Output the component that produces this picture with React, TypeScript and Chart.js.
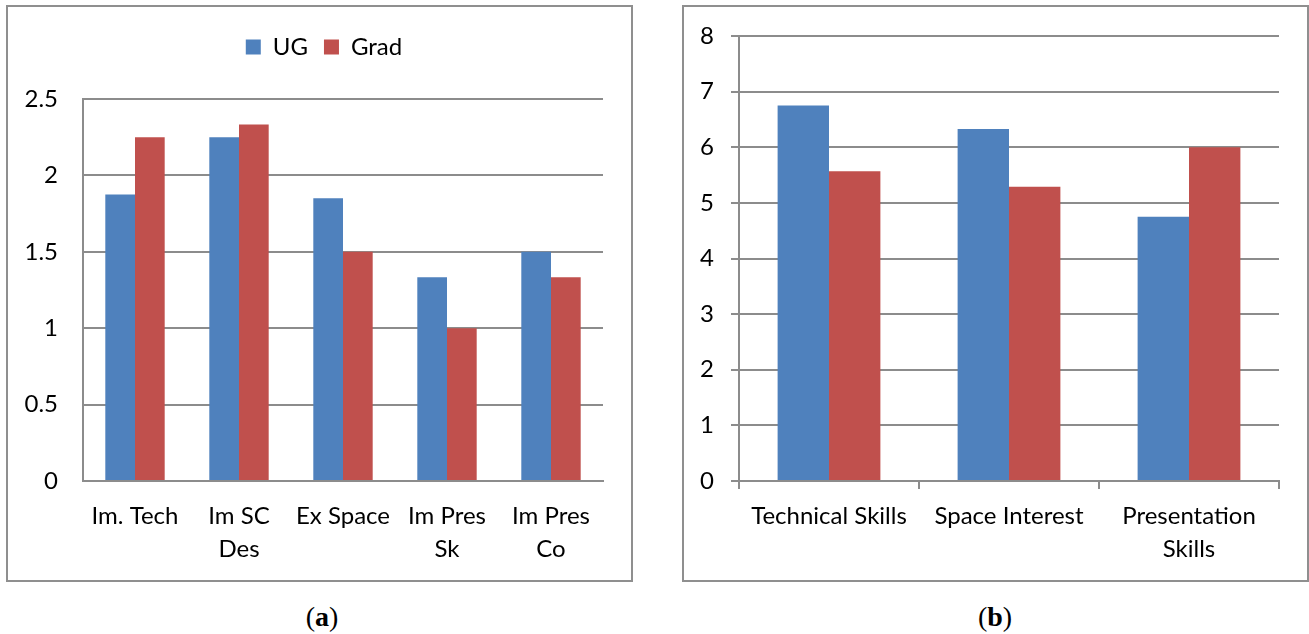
import React, { useEffect, useRef } from "react";
import { Chart, registerables } from "chart.js";

Chart.register(...registerables);

// ---- data ----
const leftCategories: (string | string[])[] = ["Im. Tech", ["Im SC", "Des"], "Ex Space", ["Im Pres", "Sk"], ["Im Pres", "Co"]];
const leftUG = [1.875, 2.25, 1.85, 1.333, 1.5];
const leftGrad = [2.25, 2.333, 1.5, 1.0, 1.333];
const leftTickLabels = ["0", "0.5", "1", "1.5", "2", "2.5"];
const leftMax = 2.5;
const leftStep = 0.5;

const rightCategories: (string | string[])[] = ["Technical Skills", "Space Interest", ["Presentation", "Skills"]];
const rightUG = [6.75, 6.33, 4.75];
const rightGrad = [5.57, 5.29, 6.0];
const rightTickLabels = ["0", "1", "2", "3", "4", "5", "6", "7", "8"];
const rightMax = 8;
const rightStep = 1;

const seriesNames = ["UG", "Grad"];
const seriesColors = ["#4F81BD", "#C0504D"];

const FONT = "Lato, 'Open Sans', sans-serif";
const FS = 24;
const GRID = "#8c8c8c";

const legendSpacer = {
  id: "legendSpacer",
  beforeLayout(chart: any) {
    const lg = chart.legend;
    if (lg && !lg._patched) {
      const orig = lg.fit;
      lg.fit = function () {
        orig.call(this);
        this.height += 30;
      };
      lg._patched = true;
    }
  },
};

function LeftChart() {
  const ref = useRef<HTMLCanvasElement>(null);
  useEffect(() => {
    const chart = new Chart(ref.current!, {
      type: "bar",
      data: {
        labels: leftCategories as any,
        datasets: [
          { label: seriesNames[0], data: leftUG, backgroundColor: seriesColors[0], borderWidth: 0, categoryPercentage: 0.571, barPercentage: 1 },
          { label: seriesNames[1], data: leftGrad, backgroundColor: seriesColors[1], borderWidth: 0, categoryPercentage: 0.571, barPercentage: 1 },
        ],
      },
      options: {
        animation: false,
        responsive: false,
        maintainAspectRatio: false,
        layout: { padding: { top: 19, left: 0, right: 0, bottom: 0 } },
        plugins: {
          legend: {
            position: "top",
            labels: { boxWidth: 15, boxHeight: 15, padding: 16, color: "#000", font: { family: FONT, size: FS } },
          },
          tooltip: { enabled: false },
        },
        scales: {
          x: {
            grid: { display: false, drawTicks: false },
            border: { display: true, color: GRID, width: 2 },
            ticks: { color: "#000", font: { family: FONT, size: FS, lineHeight: 1.375 }, padding: 19, maxRotation: 0, autoSkip: false },
            afterFit: (s: any) => { s.height = 109; },
          },
          y: {
            position: "left",
            min: 0,
            max: leftMax,
            ticks: { stepSize: leftStep, color: "#000", font: { family: FONT, size: FS }, padding: 25, callback: (_v: any, i: number) => leftTickLabels[i] },
            grid: { color: GRID, lineWidth: 2, drawTicks: false },
            border: { display: true, color: GRID, width: 2 },
            afterFit: (s: any) => { s.width = 83; },
          },
          y2: {
            position: "right",
            display: true,
            ticks: { display: false },
            grid: { display: false, drawTicks: false },
            border: { display: false },
            afterFit: (s: any) => { s.width = 45; },
          },
        },
      },
      plugins: [legendSpacer],
    } as any);
    return () => chart.destroy();
  }, []);
  return <canvas ref={ref} width={648} height={590} style={{ position: "absolute", left: 0, top: 0, width: 648, height: 590 }} />;
}

function RightChart() {
  const ref = useRef<HTMLCanvasElement>(null);
  useEffect(() => {
    const chart = new Chart(ref.current!, {
      type: "bar",
      data: {
        labels: rightCategories as any,
        datasets: [
          { label: seriesNames[0], data: rightUG, backgroundColor: seriesColors[0], borderWidth: 0, categoryPercentage: 0.571, barPercentage: 1 },
          { label: seriesNames[1], data: rightGrad, backgroundColor: seriesColors[1], borderWidth: 0, categoryPercentage: 0.571, barPercentage: 1 },
        ],
      },
      options: {
        animation: false,
        responsive: false,
        maintainAspectRatio: false,
        layout: { padding: { top: 36, left: 0, right: 29, bottom: 0 } },
        plugins: { legend: { display: false }, tooltip: { enabled: false } },
        scales: {
          x: {
            grid: { display: true, drawOnChartArea: false, drawTicks: true, tickLength: 8, color: GRID, lineWidth: 2, offset: true },
            border: { display: true, color: GRID, width: 2 },
            ticks: { color: "#000", font: { family: FONT, size: FS, lineHeight: 1.375 }, padding: 11, maxRotation: 0, autoSkip: false },
            afterFit: (s: any) => { s.height = 109; },
          },
          y: {
            min: 0,
            max: rightMax,
            ticks: { stepSize: rightStep, color: "#000", font: { family: FONT, size: FS }, padding: 17, callback: (_v: any, i: number) => rightTickLabels[i] },
            grid: { color: GRID, lineWidth: 2, drawTicks: true, tickLength: 8 },
            border: { display: true, color: GRID, width: 2 },
            afterFit: (s: any) => { s.width = 56; },
          },
        },
      },
    } as any);
    return () => chart.destroy();
  }, []);
  return <canvas ref={ref} width={625} height={590} style={{ position: "absolute", left: 683, top: 0, width: 625, height: 590 }} />;
}

const boxStyle = (left: number): React.CSSProperties => ({
  position: "absolute",
  left,
  top: 5,
  width: 627,
  height: 577,
  boxSizing: "border-box",
  border: "2px solid #8f8f8f",
});

const captionStyle = (center: number): React.CSSProperties => ({
  position: "absolute",
  left: center - 60,
  width: 120,
  top: 601,
  textAlign: "center",
  fontFamily: "'Liberation Serif', 'Times New Roman', serif",
  fontSize: 28,
  color: "#000",
  lineHeight: "32px",
});

export default function App() {
  return (
    <div style={{ position: "absolute", left: 0, top: 0, width: 1309, height: 634, background: "#fff" }}>
      <div style={boxStyle(6)} />
      <div style={boxStyle(682)} />
      <LeftChart />
      <RightChart />
      <div style={captionStyle(322)}>(<b>a</b>)</div>
      <div style={captionStyle(995)}>(<b>b</b>)</div>
    </div>
  );
}
